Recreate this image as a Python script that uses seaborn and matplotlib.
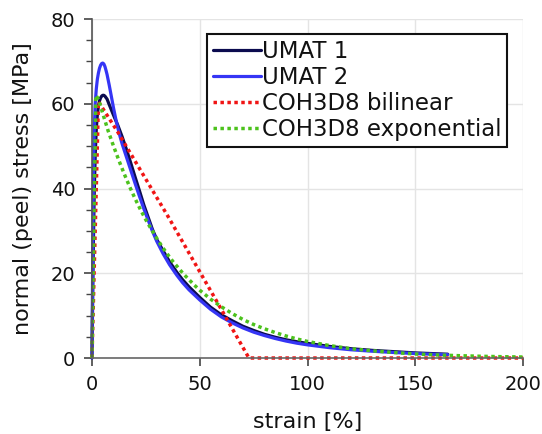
import matplotlib
matplotlib.use("Agg")
import matplotlib.pyplot as plt
from matplotlib.ticker import MultipleLocator
import seaborn as sns
import pandas as pd

# Traction response of the cohesive models: strain [%] vs normal stress [MPa]
umat1_strain = [0, 0.5, 1, 1.5, 2, 2.5, 3, 3.5, 4, 4.5, 5, 5.5, 6, 7, 8, 10, 12, 14, 16,
                18, 20, 22, 24, 26, 28, 30, 33, 36, 39.4, 42, 45, 50, 55, 60, 65, 70,
                75, 80, 85, 90, 95, 100, 110, 120, 130, 140, 150, 160, 165]
umat1_stress = [0, 22, 38, 48, 54, 57.5, 59.5, 60.7, 61.4, 61.8, 62, 62, 61.8, 61.1,
                59.8, 57.3, 54.9, 52.2, 49.2, 46, 42.7, 39.5, 36.2, 33.3, 30.4, 28.0,
                25.3, 22.7, 20.2, 18.5, 16.8, 14.3, 12.0, 10.2, 8.8, 7.5, 6.5, 5.6, 4.9,
                4.3, 3.85, 3.45, 2.75, 2.2, 1.8, 1.5, 1.2, 1.0, 0.9]

umat2_strain = [0, 0.5, 1, 1.5, 2, 2.5, 3, 3.5, 4, 4.5, 5, 5.5, 6, 6.5, 7, 8, 9, 10, 11,
                12, 13, 14, 16, 18, 20, 22, 24, 26, 28, 30, 33, 36, 39.4, 42, 45, 50,
                55, 60, 65, 70, 75, 80, 85, 90, 95, 100, 110, 120, 130, 140, 150, 160,
                165]
umat2_stress = [0, 35, 53, 60, 63.5, 65.8, 67.3, 68.4, 69.1, 69.5, 69.6, 69.4, 68.8,
                67.9, 66.9, 64.4, 61.7, 59, 56.5, 54.3, 52.3, 50.5, 47.4, 44.3, 41.2,
                38.2, 35.3, 32.6, 30.0, 27.6, 24.6, 22.0, 19.5, 17.8, 16.1, 13.7, 11.5,
                9.7, 8.3, 7.1, 6.1, 5.3, 4.6, 4.0, 3.5, 3.1, 2.45, 1.95, 1.6, 1.3, 1.05,
                0.85, 0.8]

bilinear_strain = [0, 3, 12, 35.4, 59.3, 72.8, 100, 150, 200]
bilinear_stress = [0, 60.5, 53.3, 33.3, 12.1, 0, 0, 0, 0]

expo_strain = [0, 1.8, 3, 5, 7.5, 10, 12.5, 15, 17.5, 20, 22.5, 25, 27.5, 30, 32.5, 35,
               37.5, 40, 42.5, 45, 47.5, 50, 55, 60, 65, 70, 75, 80, 85, 90, 95, 100,
               110, 120, 130, 140, 150, 160, 170, 180, 190, 200]
expo_stress = [0, 62, 61.1, 57.7, 53.6, 50.0, 46.6, 43.4, 40.4, 37.6, 35.0, 32.6, 30.4,
               28.3, 26.3, 24.5, 22.8, 21.3, 19.8, 18.5, 17.2, 16.0, 13.9, 12.1, 10.5,
               9.1, 7.9, 6.9, 6.0, 5.2, 4.5, 3.9, 2.95, 2.2, 1.7, 1.3, 0.95, 0.72,
               0.55, 0.41, 0.31, 0.23]

series = [
    ("UMAT 1", umat1_strain, umat1_stress, "#0b0b4f", "-", 2.3),
    ("UMAT 2", umat2_strain, umat2_stress, "#3535f5", "-", 2.3),
    ("COH3D8 bilinear", bilinear_strain, bilinear_stress, "#f01414", (0, (1, 1)), 2.5),
    ("COH3D8 exponential", expo_strain, expo_stress, "#4cc21c", (0, (1, 1)), 2.5),
]

sns.set_theme(style="whitegrid")
plt.rcParams["font.family"] = ["DejaVu Sans"]

fig = plt.figure(figsize=(5.42, 4.34), dpi=100)
ax = fig.add_axes([0.1697, 0.1751, 0.7955, 0.7811])

for label, xs, ys, color, ls, lw in series:
    df = pd.DataFrame({"strain": xs, "stress": ys})
    sns.lineplot(data=df, x="strain", y="stress", ax=ax, color=color, linestyle=ls,
                 linewidth=lw, label=label, sort=False, estimator=None, clip_on=False)

ax.set_xlim(0, 200)
ax.set_ylim(0, 80)
ax.xaxis.set_major_locator(MultipleLocator(50))
ax.yaxis.set_major_locator(MultipleLocator(20))
ax.yaxis.set_minor_locator(MultipleLocator(5))

ax.grid(True, which="major", color="#e4e4e4", linewidth=1.0)
ax.set_facecolor("white")
for side in ("top", "right"):
    ax.spines[side].set_visible(False)
ax.spines["left"].set_color("#555555")
ax.spines["bottom"].set_color("#666666")
ax.spines["left"].set_linewidth(1.2)
ax.spines["bottom"].set_linewidth(1.2)

ax.tick_params(axis="both", which="major", direction="out", length=6, width=1.2,
               color="#444444", labelsize=14, labelcolor="#111111", pad=6)
ax.tick_params(axis="y", which="minor", direction="out", length=4, width=1.0,
               color="#444444", left=True)
ax.tick_params(axis="x", which="major", bottom=True)
ax.tick_params(axis="y", which="major", left=True)

ax.set_xlabel("strain [%]", fontsize=16, color="#111111", labelpad=13)
ax.set_ylabel("normal (peel) stress [MPa]", fontsize=16, color="#111111", labelpad=13)

leg = ax.legend(loc="upper right", bbox_to_anchor=(0.963, 0.956), borderaxespad=0,
                fontsize=16.5, frameon=True, fancybox=False, framealpha=1,
                handlelength=2.1, handletextpad=0.05, labelspacing=0.14,
                borderpad=0.25)
leg.get_frame().set_edgecolor("#111111")
leg.get_frame().set_linewidth(1.5)
for t in leg.get_texts():
    t.set_color("#111111")

fig.savefig("out.png", dpi=100)
